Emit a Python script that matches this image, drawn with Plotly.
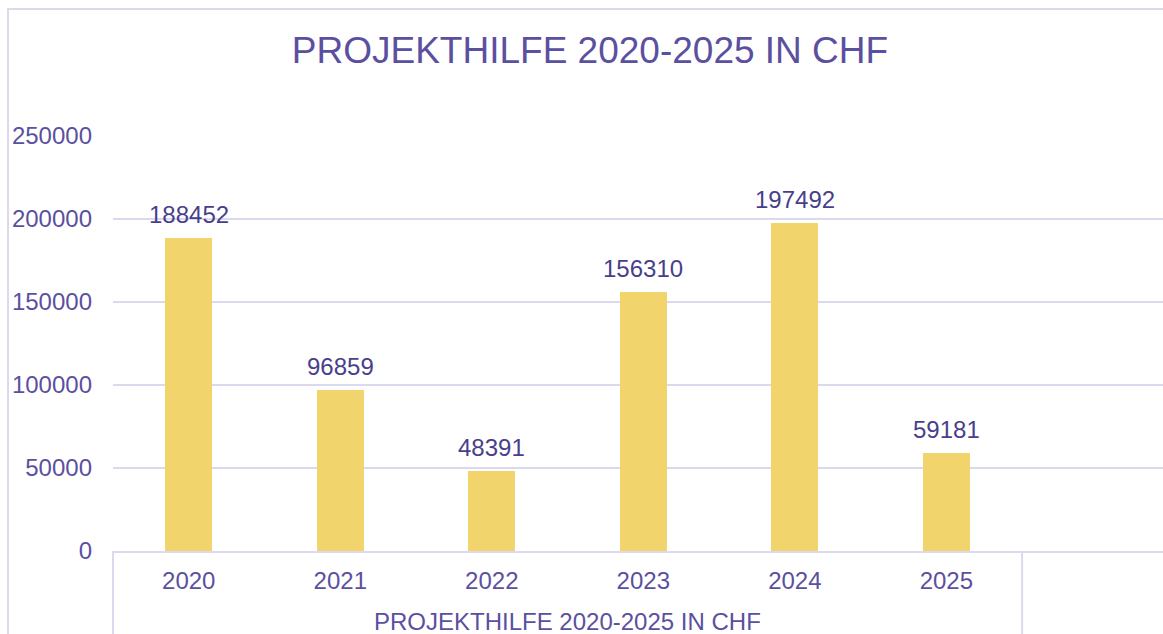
import plotly.graph_objects as go

years = ["2020", "2021", "2022", "2023", "2024", "2025"]
values = [188452, 96859, 48391, 156310, 197492, 59181]
y_ticks = [0, 50000, 100000, 150000, 200000, 250000]
title_text = "PROJEKTHILFE 2020-2025 IN CHF"
group_label = "PROJEKTHILFE 2020-2025 IN CHF"

PURPLE = "#5B50A0"
LABEL = "#483F8C"
GRID = "#DCD9EE"
BAR = "#F2D46C"
FONT = "Liberation Sans, Arial, sans-serif"

W, H = 1163, 634
ML, MR, MT, MB = 113, 0, 136, 83
xr = [-0.5, 6.43]
x_idx = list(range(len(years)))

def xpaper(v):
    return (v - xr[0]) / (xr[1] - xr[0])

fig = go.Figure()
fig.add_trace(go.Bar(
    x=x_idx, y=values, width=0.31,
    marker=dict(color=BAR, line=dict(width=0)),
    hoverinfo="skip", showlegend=False,
))

for i, v in zip(x_idx, values):
    fig.add_annotation(x=i, y=v, xref="x", yref="y", text=str(v), showarrow=False,
                       yanchor="bottom", yshift=8,
                       font=dict(family=FONT, size=24, color=LABEL))

plot_h = H - MT - MB
fig.add_annotation(x=xpaper(2.5), y=-(621 - (H - MB)) / plot_h, xref="paper", yref="paper",
                   text=group_label, showarrow=False, yanchor="middle",
                   font=dict(family=FONT, size=24, color=PURPLE))

shapes = []
for xv in (-0.5, 5.5):
    shapes.append(dict(type="line", xref="paper", yref="paper",
                       x0=xpaper(xv), x1=xpaper(xv), y0=0, y1=-0.5,
                       line=dict(color=GRID, width=2)))
plot_w = W - ML - MR
shapes.append(dict(type="rect", xref="paper", yref="paper",
                   x0=(8 - ML) / plot_w, x1=1.2,
                   y0=-0.6, y1=((H - MB) - 9) / plot_h,
                   line=dict(color=GRID, width=2), fillcolor="rgba(0,0,0,0)", layer="below"))

fig.update_layout(
    width=W, height=H,
    margin=dict(l=ML, r=MR, t=MT, b=MB),
    paper_bgcolor="white", plot_bgcolor="white",
    title=dict(text=title_text, x=590 / W, xanchor="center", y=1 - 50 / H, yanchor="middle",
               xref="container", yref="container",
               font=dict(family=FONT, size=37, color=PURPLE)),
    shapes=shapes,
    bargap=0,
)
fig.update_xaxes(range=xr, tickmode="array", tickvals=x_idx, ticktext=years,
                 showgrid=False, zeroline=False, showline=True, linecolor=GRID, linewidth=2,
                 ticks="", ticklabelstandoff=7,
                 tickfont=dict(family=FONT, size=24, color=PURPLE), fixedrange=True)
fig.update_yaxes(range=[0, 250000], tickmode="array", tickvals=y_ticks,
                 ticktext=[str(t) for t in y_ticks],
                 showgrid=True, gridcolor=GRID, gridwidth=2, zeroline=False, showline=False,
                 ticks="", ticklabelstandoff=20,
                 tickfont=dict(family=FONT, size=24, color=PURPLE), fixedrange=True)

fig.write_html("out.html")
